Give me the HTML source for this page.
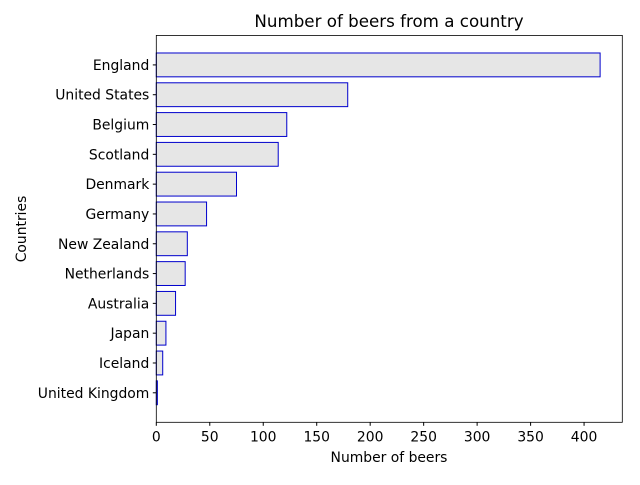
<!DOCTYPE html>
<html><head><meta charset="utf-8"><style>
body{margin:0;background:#fff;font-family:"Liberation Sans","DejaVu Sans",sans-serif;}
svg text{font-family:"DejaVu Sans","Liberation Sans",sans-serif;font-size:13.9px;fill:#000;}
</style></head><body>
<svg id="chart" width="640" height="480">
<text x="389" y="27" text-anchor="middle" style="font-size:16.7px">Number of beers from a country</text>
<text x="389" y="462" text-anchor="middle">Number of beers</text>
<text transform="translate(26,229) rotate(-90)" text-anchor="middle">Countries</text>
<g id="bars"></g><g id="axes"></g>
</svg>
<script>
const categories=["England","United States","Belgium","Scotland","Denmark","Germany","New Zealand","Netherlands","Australia","Japan","Iceland","United Kingdom"];
const values=[415,179,122,114,75,47,29,27,18,9,6,1];
const xTicks=[0,50,100,150,200,250,300,350,400];
const L=156.3,R=622.3,T=35.4,B=422.3;
const xmax=Math.max(...values)*1.05;
const n=categories.length;
const yLo=-0.4-(n-0.2)*0.05, ymax=(n-1)+0.4+(n-0.2)*0.05;
function xs(v){return L+v/xmax*(R-L);}
function ys(i){return T+(i-yLo)/(ymax-yLo)*(B-T);}
const NS="http://www.w3.org/2000/svg";
const bars=document.getElementById('bars'),axes=document.getElementById('axes');
const bh=0.8*(B-T)/(ymax-yLo);
categories.forEach((c,i)=>{
 const r=document.createElementNS(NS,'rect');
 r.setAttribute('x',xs(0));r.setAttribute('y',ys(i)-bh/2);
 r.setAttribute('width',xs(values[i])-xs(0));r.setAttribute('height',bh);
 r.setAttribute('fill','#e6e6e6');r.setAttribute('stroke','#0000cc');r.setAttribute('stroke-width','1');
 
 
 bars.appendChild(r);
 const t=document.createElementNS(NS,'text');
 t.setAttribute('x',L-7);t.setAttribute('y',ys(i)+5);t.setAttribute('text-anchor','end');t.textContent=c;
 
 
 axes.appendChild(t);
 const k=document.createElementNS(NS,'line');
 k.setAttribute('x1',L-3.5);k.setAttribute('x2',L);k.setAttribute('y1',ys(i));k.setAttribute('y2',ys(i));k.setAttribute('stroke','#000');
 axes.appendChild(k);
});
xTicks.forEach(v=>{
 const k=document.createElementNS(NS,'line');
 k.setAttribute('x1',xs(v));k.setAttribute('x2',xs(v));k.setAttribute('y1',B);k.setAttribute('y2',B+3.5);k.setAttribute('stroke','#000');
 axes.appendChild(k);
 const t=document.createElementNS(NS,'text');
 t.setAttribute('x',xs(v));t.setAttribute('y',B+19);t.setAttribute('text-anchor','middle');t.textContent=v;
 
 
 axes.appendChild(t);
});
const f=document.createElementNS(NS,'rect');
f.setAttribute('x',L);f.setAttribute('y',T);f.setAttribute('width',R-L);f.setAttribute('height',B-T);
f.setAttribute('fill','none');f.setAttribute('stroke','#000');f.setAttribute('stroke-width','0.8');


axes.appendChild(f);
</script>
</body></html>
